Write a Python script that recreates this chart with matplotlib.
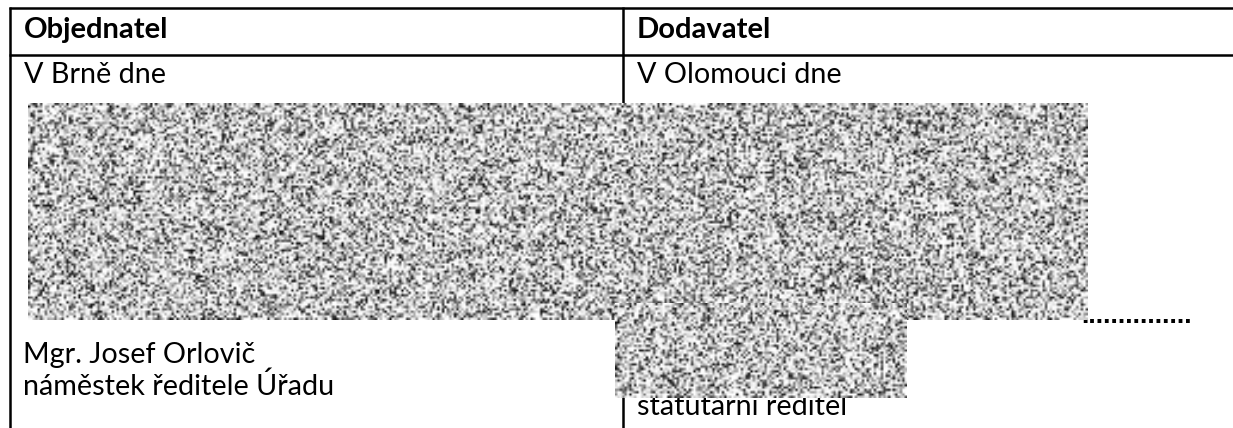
import numpy as np
import matplotlib
matplotlib.use("Agg")
import matplotlib.pyplot as plt

# ---- content ----
header_labels = ["Objednatel", "Dodavatel"]
place_labels = ["V Brně dne", "V Olomouci dne"]
left_sign_lines = ["Mgr. Josef Orlovič", "náměstek ředitele Úřadu"]
right_sign_lines = ["statutární ředitel"]
dots_text = "." * 15

W, H = 1233, 428
FONT = "Lato"
FS = 20.7

fig = plt.figure(figsize=(W / 100, H / 100), dpi=100)
ax = fig.add_axes([0, 0, 1, 1])
ax.set_xlim(0, W)
ax.set_ylim(H, 0)
ax.axis("off")

lw = 1.8
ax.plot([9, W], [8, 8], color="black", lw=lw, solid_capstyle="butt")
ax.plot([9, W], [55, 55], color="black", lw=lw, solid_capstyle="butt")
ax.plot([10, 10], [7, H], color="black", lw=lw, solid_capstyle="butt")
ax.plot([622.5, 622.5], [7, 110], color="black", lw=lw, solid_capstyle="butt")
ax.plot([622.5, 622.5], [390, H], color="black", lw=lw, solid_capstyle="butt")

tx = [24, 637]
for x, s in zip(tx, header_labels):
    ax.text(x, 38, s, fontsize=FS + 0.3, fontweight="bold", family=FONT,
            va="baseline", ha="left")
for x, s in zip(tx, place_labels):
    ax.text(x, 83, s, fontsize=FS, family=FONT, va="baseline", ha="left")
for i, s in enumerate(left_sign_lines):
    ax.text(23, 363 + i * 32, s, fontsize=FS, family=FONT, va="baseline", ha="left")
for s in right_sign_lines:
    ax.text(637, 415, s, fontsize=FS, family=FONT, va="baseline", ha="left")

ax.text(1081, 323, dots_text, fontsize=19, family="Liberation Sans",
        fontweight="bold", va="baseline", ha="left", zorder=1)


# ---- redaction texture (deterministic hash noise) ----
def texture(w, h, seed, cell=2.4):
    gx, gy = np.meshgrid(np.arange(int(w / cell) + 2), np.arange(int(h / cell) + 2))
    v = np.sin(gx * 12.9898 + gy * 78.233 + seed * 37.719) * 43758.5453
    v = v - np.floor(v)
    g = 1.0 - 0.95 * v ** 2.3
    return g


def draw_box(x0, y0, x1, y1, seed):
    g = texture(int(x1 - x0), int(y1 - y0), seed)
    ax.imshow(g, cmap="gray", vmin=0, vmax=1, extent=(x0, x1, y1, y0),
              interpolation="bilinear", aspect="auto", zorder=3)


draw_box(28, 103, 1088, 320, 1)
draw_box(615, 303, 907, 398, 2)

ax.set_xlim(0, W)
ax.set_ylim(H, 0)
fig.savefig("out.png", dpi=100, facecolor="white")
